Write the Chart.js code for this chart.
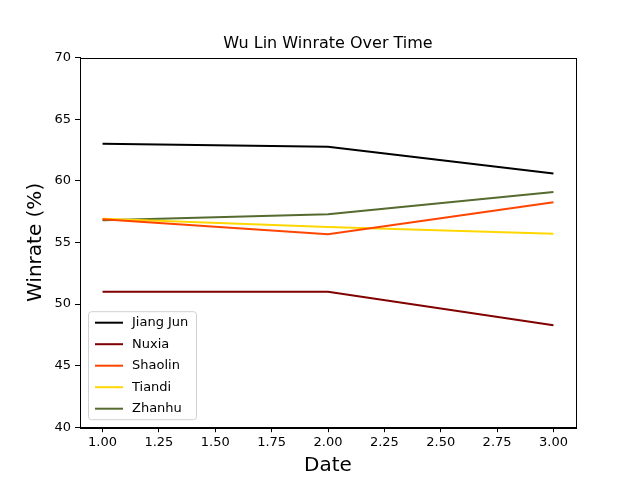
<!DOCTYPE html>
<html>
<head>
<meta charset="utf-8">
<script src="https://cdn.jsdelivr.net/npm/chart.js@4.4.0/dist/chart.umd.min.js"></script>
<style>
  html, body { margin: 0; padding: 0; background: #fff; }
  #wrap { width: 640px; height: 480px; }
</style>
</head>
<body>
<div id="wrap"><canvas id="chart" width="640" height="480"></canvas></div>
<script>
const dates = [1, 2, 3];
const xTicks = [1.0, 1.25, 1.5, 1.75, 2.0, 2.25, 2.5, 2.75, 3.0];
const yTicks = [40, 45, 50, 55, 60, 65, 70];

const seriesNames = ['Jiang Jun', 'Nuxia', 'Shaolin', 'Tiandi', 'Zhanhu'];
const jiangJun = [63.0, 62.77, 60.6];
const nuxia = [51.0, 51.0, 48.27];
const shaolin = [56.87, 55.66, 58.25];
const tiandi = [56.92, 56.25, 55.7];
const zhanhu = [56.8, 57.28, 59.1];
const seriesColors = ['#000000', '#800000', '#ff4500', '#ffd700', '#556b2f'];

const chartTitle = 'Wu Lin Winrate Over Time';
const font = 'DejaVu Sans';
const allValues = [jiangJun, nuxia, shaolin, tiandi, zhanhu];

// box round the plot and the title centred over it, like matplotlib
const frame = {
    id: 'frame',
    afterDraw(chart) {
        const a = chart.chartArea;
        const ctx = chart.ctx;
        ctx.save();
        ctx.strokeStyle = '#000';
        ctx.lineWidth = 1;
        ctx.strokeRect(Math.round(a.left) + 0.5, Math.round(a.top) + 0.5,
            Math.round(a.right - a.left), Math.round(a.bottom - a.top));
        ctx.fillStyle = '#000';
        ctx.font = '16px "' + font + '"';
        ctx.textAlign = 'center';
        ctx.textBaseline = 'middle';
        ctx.fillText(chartTitle, (a.left + a.right) / 2, a.top - 14);
        ctx.restore();
    }
};

// legend drawn inside the plot, lower left
const innerLegend = {
    id: 'innerLegend',
    afterDraw(chart) {
        const a = chart.chartArea;
        const ctx = chart.ctx;
        const sets = chart.data.datasets;
        const rowH = 21.5;
        const w = 108, h = (sets.length - 1) * rowH + 22;
        const x = a.left + 8, y = a.bottom - 8 - h;
        ctx.save();
        ctx.beginPath();
        ctx.roundRect(x + 0.5, y + 0.5, w, h, 3);
        ctx.fillStyle = 'rgba(255,255,255,0.8)';
        ctx.fill();
        ctx.strokeStyle = '#d0d0d0';
        ctx.lineWidth = 1;
        ctx.stroke();
        ctx.font = '13px "' + font + '"';
        ctx.textBaseline = 'middle';
        sets.forEach((ds, i) => {
            const cy = y + 11.5 + i * rowH;
            ctx.beginPath();
            ctx.moveTo(x + 7, cy);
            ctx.lineTo(x + 35, cy);
            ctx.strokeStyle = ds.borderColor;
            ctx.lineWidth = 2;
            ctx.stroke();
            ctx.fillStyle = '#000';
            ctx.fillText(ds.label, x + 44, cy);
        });
        ctx.restore();
    }
};

new Chart(document.getElementById('chart'), {
    type: 'line',
    data: {
        datasets: seriesNames.map((name, i) => ({
            label: name,
            data: dates.map((d, j) => ({ x: d, y: allValues[i][j] })),
            borderColor: seriesColors[i],
            backgroundColor: seriesColors[i],
            borderWidth: 2,
            pointRadius: 0,
            tension: 0,
            fill: false
        }))
    },
    options: {
        responsive: false,
        animation: false,
        layout: { padding: { left: 0, right: 64, top: 57.6, bottom: 0 } },
        plugins: {
            legend: { display: false },
            tooltip: { enabled: false },
            title: { display: false }
        },
        scales: {
            x: {
                type: 'linear',
                min: 0.9,
                max: 3.1,
                afterBuildTicks: s => { s.ticks = xTicks.map(v => ({ value: v })); },
                afterFit: s => { s.height = 52.8; },
                ticks: {
                    color: '#000',
                    font: { family: font, size: 13 },
                    padding: 3,
                    maxRotation: 0,
                    autoSkip: false,
                    callback: v => Number(v).toFixed(2)
                },
                grid: { drawOnChartArea: false, color: '#000', tickLength: 5 },
                border: { color: '#000' },
                title: {
                    display: true,
                    text: 'Date',
                    color: '#000',
                    font: { family: font, size: 20, lineHeight: 1.2 },
                    padding: { top: 0, bottom: 2 }
                }
            },
            y: {
                min: 40,
                max: 70,
                afterBuildTicks: s => { s.ticks = yTicks.map(v => ({ value: v })); },
                afterFit: s => { s.width = 80; },
                ticks: {
                    color: '#000',
                    font: { family: font, size: 13 },
                    padding: 4,
                    autoSkip: false
                },
                grid: { drawOnChartArea: false, color: '#000', tickLength: 5 },
                border: { color: '#000' },
                title: {
                    display: true,
                    text: 'Winrate (%)',
                    color: '#000',
                    font: { family: font, size: 20, lineHeight: 1.2 },
                    padding: { top: 24, bottom: 0 }
                }
            }
        }
    },
    plugins: [frame, innerLegend]
});
</script>
</body>
</html>
